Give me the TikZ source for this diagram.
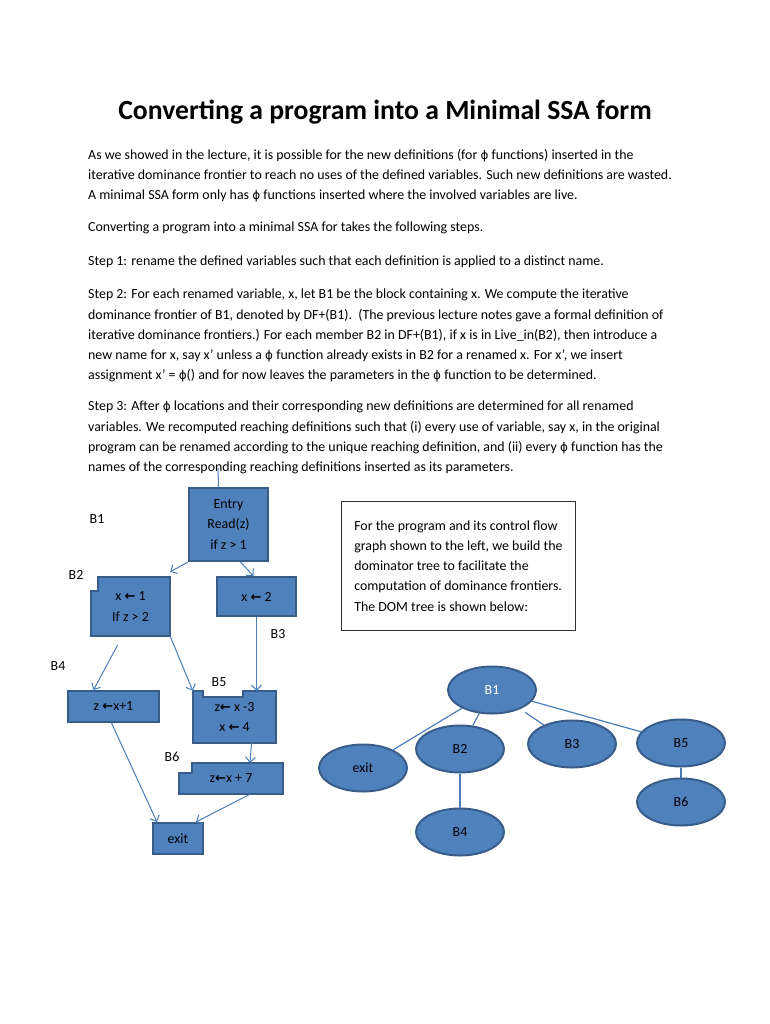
\documentclass[tikz,border=0pt]{standalone}
\usepackage{fontspec}
\setmainfont{Carlito}
\newfontfamily\dejavu{DejaVu Sans}
\usetikzlibrary{shapes.geometric,arrows.meta,backgrounds}
\definecolor{boxblue}{HTML}{4F81BD}
\definecolor{boxedge}{HTML}{385D8A}
\definecolor{linkblue}{HTML}{4A7EBB}
\newcommand{\larr}{{\dejavu\bfseries\fontsize{13}{13}\selectfont ←}}
\newcommand{\phisym}{{\dejavu\fontsize{12}{12}\selectfont ϕ}}

\begin{document}
\begin{tikzpicture}[x=1pt, y=-1pt, font=\fontsize{13.9}{20.2}\selectfont]
    % Define styles
    \tikzstyle{para} = [anchor=north west, align=left, inner sep=0]
    \tikzstyle{block} = [rectangle, draw=boxedge, fill=boxblue, line width=2pt, align=center, inner sep=0]
    \tikzstyle{notchblock} = [rectangle, align=center, inner sep=0]
    \tikzstyle{notchedge} = [draw=boxedge, fill=boxblue, line width=2pt]
    \tikzstyle{blocklabel} = [inner sep=0]
    \tikzstyle{flow} = [linkblue, line width=1pt, ->, >={Straight Barb[length=5pt,width=10pt]}]
    \tikzstyle{domnode} = [ellipse, draw=boxedge, fill=boxblue, line width=2pt, minimum width=88pt, minimum height=47pt, inner sep=0]
    \tikzstyle{treeedge} = [linkblue, line width=1.2pt]

    \useasboundingbox (0,0) rectangle (770,1024);

    % Title and text
    \node[font=\fontsize{27.7}{32}\selectfont\bfseries] (title) at (385,112) {Converting a program into a Minimal SSA form};
    \node[para] (intro) at (88,149) {As we showed in the lecture, it is possible for the new definitions (for \phisym\ functions) inserted in the\\
        iterative dominance frontier to reach no uses of the defined variables. Such new definitions are wasted.\\
        A minimal SSA form only has \phisym\ functions inserted where the involved variables are live.};
    \node[para] (steps) at (88,222) {Converting a program into a minimal SSA for takes the following steps.};
    \node[para] (step1) at (88,256) {Step 1: rename the defined variables such that each definition is applied to a distinct name.};
    \node[para] (step2) at (88,289) {Step 2: For each renamed variable, x, let B1 be the block containing x. We compute the iterative\\
        dominance frontier of B1, denoted by DF+(B1).~~(The previous lecture notes gave a formal definition of\\
        iterative dominance frontiers.) For each member B2 in DF+(B1), if x is in Live\_in(B2), then introduce a\\
        new name for x, say x’ unless a \phisym\ function already exists in B2 for a renamed x. For x’, we insert\\
        assignment x’ = \phisym() and for now leaves the parameters in the \phisym\ function to be determined.};
    \node[para] (step3) at (88,401) {Step 3: After \phisym\ locations and their corresponding new definitions are determined for all renamed\\
        variables. We recomputed reaching definitions such that (i) every use of variable, say x, in the original\\
        program can be renamed according to the unique reaching definition, and (ii) every \phisym\ function has the\\
        names of the corresponding reaching definitions inserted as its parameters.};

    % Control flow graph
    \node[block, minimum width=79pt, minimum height=73pt] (b1) at (228.5,524.5) {Entry\\Read(z)\\if z > 1};
    \node[notchblock, minimum width=79pt, minimum height=59pt] (b2) at (130.5,606.5) {x \larr{} 1\\If z > 2};
    \node[block, minimum width=79pt, minimum height=39pt] (b3) at (256.5,596.5) {x \larr{} 2};
    \node[block, minimum width=91pt, minimum height=31pt] (b4) at (113.5,706.5) {z \larr{}x+1};
    \node[notchblock, minimum width=83pt, minimum height=52pt] (b5) at (234.5,717) {z\larr{} x -3\\x \larr{} 4};
    \node[notchblock, minimum width=104pt, minimum height=31pt] (b6) at (231,778.5) {z\larr{}x + 7};
    \node[block, minimum width=50pt, minimum height=31pt] (exit) at (178,838.5) {exit};

    \begin{scope}[on background layer]
        \path[notchedge] ([xshift=7pt]b2.north west) -- (b2.north east) -- (b2.south east) -- (b2.south west)
            -- ([yshift=-14pt]b2.north west) -- ([shift={(7pt,-14pt)}]b2.north west) -- cycle;
        \path[notchedge] (b5.north west) -- ([xshift=10pt]b5.north west) -- ([shift={(10pt,-6pt)}]b5.north west)
            -- ([shift={(50pt,-6pt)}]b5.north west) -- ([xshift=50pt]b5.north west) -- (b5.north east)
            -- (b5.south east) -- (b5.south west) -- cycle;
        \path[notchedge] ([xshift=13pt]b6.north west) -- (b6.north east) -- (b6.south east) -- (b6.south west)
            -- ([yshift=-10pt]b6.north west) -- ([shift={(13pt,-10pt)}]b6.north west) -- cycle;
    \end{scope}

    % Block labels
    \node[blocklabel] (l1) at (97,519) {B1};
    \node[blocklabel] (l2) at (76,575) {B2};
    \node[blocklabel] (l3) at (278,634) {B3};
    \node[blocklabel] (l4) at (58,666) {B4};
    \node[blocklabel] (l5) at (219,682) {B5};
    \node[blocklabel] (l6) at (172,757) {B6};

    % Edges
    \coordinate (start) at (218,468);
    \draw[linkblue, line width=1pt] (start) -- ([xshift=-10pt]b1.north);
    \draw[flow] (b1.south west) -- ([yshift=5pt]b2.north east);
    \draw[flow] ([xshift=12pt]b1.south) -- ([xshift=-3pt]b3.north);
    \draw[flow] ([shift={(-13pt,-9pt)}]b2.south) -- ([xshift=-20pt]b4.north);
    \draw[flow] (b2.south east) -- (b5.north west);
    \draw[flow] (b3.south) -- (b3.south |- b5.north);
    \draw[flow] ([xshift=17pt]b5.south) -- ([xshift=19pt]b6.north);
    \draw[flow] ([xshift=-2pt]b4.south) -- ([xshift=5pt]exit.north west);
    \draw[flow] ([xshift=19pt]b6.south) -- ([xshift=-8pt]exit.north east);

    % Note
    \node[draw=black!80, line width=0.8pt, anchor=north west, inner xsep=8pt, minimum width=234pt, minimum height=129pt, align=left] (note) at (341,501)
        {For the program and its control flow\\graph shown to the left, we build the\\dominator tree to facilitate the\\computation of dominance frontiers.\\The DOM tree is shown below:};

    % DOM tree
    \node[domnode, text=white] (d1) at (492,690) {B1};
    \node[domnode] (dexit) at (363,768) {exit};
    \node[domnode] (d2) at (460,749) {B2};
    \node[domnode] (d3) at (572,744) {B3};
    \node[domnode] (d5) at (681,743) {B5};
    \node[domnode] (d6) at (681,802) {B6};
    \node[domnode] (d4) at (460,832) {B4};

    \draw[treeedge] (d1) -- (dexit);
    \draw[treeedge] (d1) -- (d2);
    \draw[treeedge, shorten <=6pt] (d1) -- (d3);
    \draw[treeedge] (d1) -- (d5);
    \draw[treeedge] (d2) -- (d4);
    \draw[treeedge] (d5) -- (d6);
\end{tikzpicture}
\end{document}
